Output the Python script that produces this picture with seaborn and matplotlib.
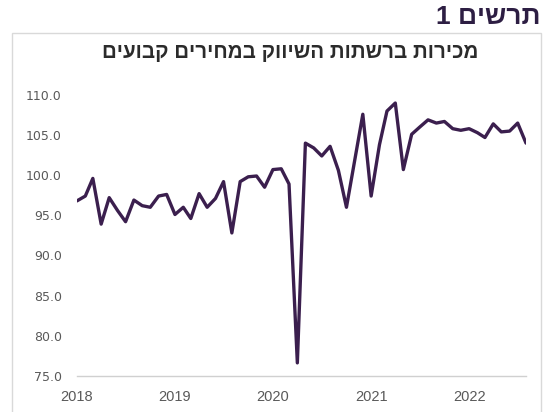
import pandas as pd
import matplotlib.pyplot as plt
import matplotlib.dates as mdates
from matplotlib.patches import Rectangle
import seaborn as sns

# monthly sales index, Jan 2018 - Aug 2022
start_month = "2018-01-01"
sales = [
    96.8, 97.4, 99.6, 93.9, 97.2, 95.6, 94.2, 96.9, 96.2, 96.0, 97.4, 97.6,
    95.1, 96.0, 94.6, 97.7, 96.0, 97.1, 99.2, 92.8, 99.2, 99.8, 99.9, 98.5,
    100.7, 100.8, 98.9, 76.6, 104.0, 103.4, 102.4, 103.6, 100.6, 96.0, 101.9, 107.6,
    97.4, 103.8, 108.0, 109.0, 100.7, 105.1, 106.0, 106.9, 106.5, 106.7, 105.8, 105.6,
    105.8, 105.3, 104.7, 106.4, 105.4, 105.5, 106.5, 104.0,
]
year_ticks = ["2018", "2019", "2020", "2021", "2022"]

fig_label = "תרשים 1"
chart_title = "מכירות ברשתות השיווק במחירים קבועים"


def rtl(text):
    # matplotlib has no bidi support, so flip the visual order
    return text[::-1]


df = pd.DataFrame({
    "month": pd.date_range(start_month, periods=len(sales), freq="MS"),
    "sales": sales,
})

sns.set_theme(style="white")
plt.rcParams["font.family"] = ["DejaVu Sans"]

fig = plt.figure(figsize=(5.45, 4.12), dpi=100)
W, H = 545, 412

# frame around the chart
fig.patches.append(Rectangle((12 / W, -0.01), (541 - 12) / W, (412 - 33) / H + 0.01,
                             transform=fig.transFigure, fill=False,
                             edgecolor="#d9d9d9", linewidth=1.0))

ax = fig.add_axes([77 / W, (H - 375.7) / H, (526 - 77) / W, (375.7 - 95) / H])
ax.set_facecolor("none")
sns.lineplot(data=df, x="month", y="sales", ax=ax, color="#3b1f4e", linewidth=2.4)

ax.set_xlim(df["month"].iloc[0], df["month"].iloc[-1])
ax.set_ylim(75, 110)
ax.set_yticks([75, 80, 85, 90, 95, 100, 105, 110])
ax.yaxis.set_major_formatter(plt.FuncFormatter(lambda v, p: f"{v:.1f}"))
ax.set_xticks(pd.to_datetime([f"{y}-01-01" for y in year_ticks]))
ax.xaxis.set_major_formatter(mdates.DateFormatter("%Y"))

ax.set_xlabel("")
ax.set_ylabel("")
for side in ["left", "top", "right"]:
    ax.spines[side].set_visible(False)
ax.spines["bottom"].set_color("#d0d0d0")
ax.spines["bottom"].set_linewidth(1.0)

ax.tick_params(axis="y", length=0, pad=11, labelsize=9, labelcolor="#595959")
ax.tick_params(axis="x", direction="out", length=5, width=1, color="#d0d0d0",
               pad=5, labelsize=10.5, labelcolor="#595959")
for lbl in ax.get_xticklabels():
    lbl.set_fontfamily(["Liberation Sans", "DejaVu Sans"])

fig.text(540 / W, (H - 17) / H, rtl(fig_label), ha="right", va="center",
         fontsize=19, fontweight="bold", color="#2d1e43",
         family=["Liberation Sans", "DejaVu Sans"])
fig.text(290 / W, (H - 52) / H, rtl(chart_title), ha="center", va="center",
         fontsize=14.8, fontweight="bold", color="#2b2b2b",
         family=["Liberation Sans", "DejaVu Sans"])

fig.savefig("out.png", dpi=100)
